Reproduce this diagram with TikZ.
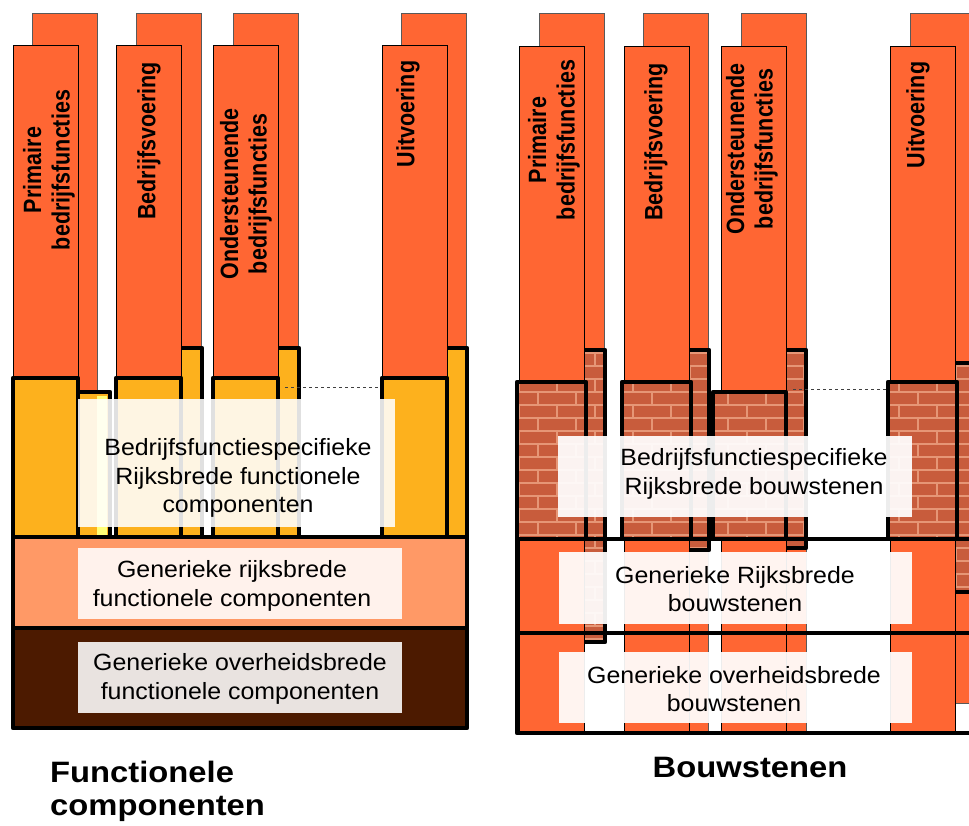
\documentclass[tikz,border=0pt]{standalone}
\usepackage{fontspec}
\setmainfont{Liberation Sans}
\newfontfamily\pillarfont{Liberation Sans}[FakeStretch=0.86]
\newfontfamily\layerfont{Liberation Sans}[FakeStretch=1.06]
\newfontfamily\titlefont{Liberation Sans}[FakeStretch=1.11]

\definecolor{pillarorange}{RGB}{255,102,51}
\definecolor{blockyellow}{RGB}{253,177,29}
\definecolor{paleyellow}{RGB}{255,255,120}
\definecolor{salmonlayer}{RGB}{255,153,102}
\definecolor{brownlayer}{RGB}{76,26,0}
\definecolor{brickred}{RGB}{200,92,60}
\definecolor{mortar}{RGB}{230,150,118}

% brick block: x1 y1 x2 y2
\newcommand{\brickblock}[4]{%
  \begin{scope}
    \clip (#1,#2) rectangle (#3,#4);
    \fill[brickred] (#1,#2) rectangle (#3,#4);
    \foreach \r in {0,...,30}{
      \pgfmathsetmacro{\by}{340+13*\r}
      \pgfmathsetmacro{\bo}{mod(\r,2)*19}
      \draw[mortar,line width=1.3pt] (500,\by) -- (980,\by);
      \foreach \k in {0,...,12}
        \draw[mortar,line width=1.3pt] ({500+\bo+38*\k},\by) -- ++(0,13);
    }
  \end{scope}
  \draw[blockline] (#1,#2) rectangle (#3,#4);}

\begin{document}
\begin{tikzpicture}[x=1pt,y=-1pt,
  backpillar/.style={fill=pillarorange,draw=black!65,line width=0.8pt},
  frontpillar/.style={fill=pillarorange,draw=black,line width=0.8pt},
  blockline/.style={draw=black,line width=4.5pt,line join=round},
  guide/.style={draw=black!75,line width=0.7pt,dash pattern=on 3pt off 3pt},
  pillarlabel/.style={rotate=90,align=center,inner sep=0pt,
    font=\pillarfont\bfseries\fontsize{25}{28.5}\selectfont},
  layerlabel/.style={align=center,inner sep=0pt,
    font=\layerfont\fontsize{23.5}{28.5}\selectfont},
  panelname/.style={align=left,inner sep=0pt,
    font=\titlefont\bfseries\fontsize{29.5}{33}\selectfont}]
\useasboundingbox (0,0) rectangle (969,825);
\clip (0,0) rectangle (969,825);

% functionele componenten
\foreach \px/\pb in {32/392,136/348,233/348,401/348}
  \filldraw[backpillar] (\px,13) rectangle (\px+65,\pb);
\filldraw[fill=blockyellow,blockline] (78,392) rectangle (110,537);
\fill[paleyellow] (97,396) rectangle (107,535);
\foreach \px in {136,233,401}
  \filldraw[fill=blockyellow,blockline] (\px,348) rectangle (\px+66,537);
\foreach \px in {13,116,213,382}{
  \filldraw[frontpillar] (\px,45) rectangle (\px+65,378);
  \filldraw[fill=blockyellow,blockline] (\px,378) rectangle (\px+65,537);
}
\filldraw[fill=salmonlayer,blockline] (13,537) rectangle (467,628);
\filldraw[fill=brownlayer,blockline] (13,628) rectangle (467,728);
\draw[guide] (285,387) -- (380,387);

\fill[white,fill opacity=0.88] (78,399) rectangle (395,527);
\fill[white,fill opacity=0.88] (78,548) rectangle (402,619);
\fill[white,fill opacity=0.88] (78,642) rectangle (402,713);

\node[pillarlabel] (fcPrimair) at (49,170) {Primaire\\bedrijfsfuncties};
\node[pillarlabel] (fcVoering) at (149,141) {Bedrijfsvoering};
\node[pillarlabel] (fcOnderst) at (246,194) {Ondersteunende\\bedrijfsfuncties};
\node[pillarlabel] (fcUit) at (408,114) {Uitvoering};

\node[layerlabel] (fcSpecifiek) at (238,478) {Bedrijfsfunctiespecifieke\\Rijksbrede functionele\\componenten};
\node[layerlabel] (fcRijk) at (232,586) {Generieke rijksbrede\\functionele componenten};
\node[layerlabel] (fcOverheid) at (240,679) {Generieke overheidsbrede\\functionele componenten};

\node[panelname,anchor=north west] (fcTitle) at (50,761) {Functionele\\componenten};

% bouwstenen
\foreach \px/\pb in {539/350,643/733,741/733,910/703}
  \filldraw[backpillar] (\px,13) rectangle (\px+65,\pb);
\brickblock{539}{350}{605}{642}
\brickblock{643}{350}{709}{550}
\brickblock{741}{350}{806}{548}
\brickblock{910}{363}{980}{592}
\foreach \px in {519,624,721,890}
  \filldraw[frontpillar] (\px,46) rectangle (\px+65,733);
\brickblock{517}{382}{586}{539}
\brickblock{622}{382}{691}{539}
\brickblock{713}{392}{786}{539}
\brickblock{888}{382}{957}{539}
\draw[blockline] (517,382) -- (517,733) -- (980,733);
\draw[blockline] (517,539) -- (980,539);
\draw[blockline] (517,633) -- (980,633);
\draw[guide] (793,389) -- (888,389);

\fill[white,fill opacity=0.93] (558,436) rectangle (912,517);
\fill[white,fill opacity=0.93] (559,552) rectangle (912,624);
\fill[white,fill opacity=0.93] (559,652) rectangle (912,723);

\node[pillarlabel] (bsPrimair) at (554,140) {Primaire\\bedrijfsfuncties};
\node[pillarlabel] (bsVoering) at (656,142) {Bedrijfsvoering};
\node[pillarlabel] (bsOnderst) at (752,149) {Ondersteunende\\bedrijfsfuncties};
\node[pillarlabel] (bsUit) at (918,115) {Uitvoering};

\node[layerlabel] (bsSpecifiek) at (754,474) {Bedrijfsfunctiespecifieke\\Rijksbrede bouwstenen};
\node[layerlabel] (bsRijk) at (735,589) {Generieke Rijksbrede\\bouwstenen};
\node[layerlabel] (bsOverheid) at (734,689) {Generieke overheidsbrede\\bouwstenen};

\node[panelname,anchor=base] (bsTitle) at (750,777) {Bouwstenen};
\end{tikzpicture}
\end{document}
